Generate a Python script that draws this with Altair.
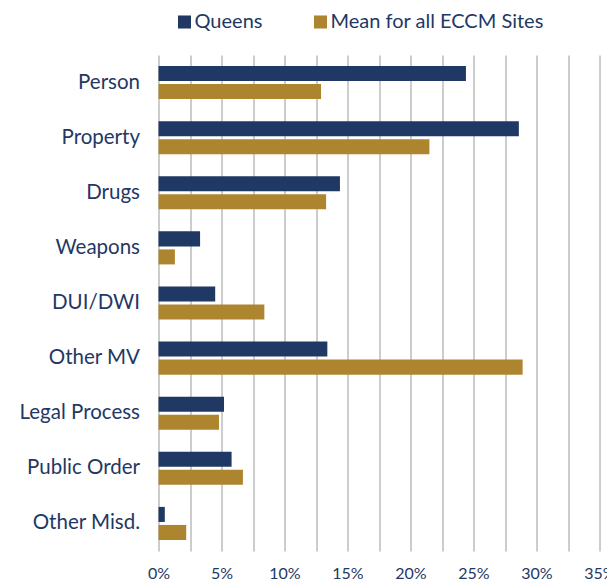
import altair as alt
import pandas as pd

categories = ["Person", "Property", "Drugs", "Weapons", "DUI/DWI", "Other MV",
              "Legal Process", "Public Order", "Other Misd."]
queens = [24.4, 28.6, 14.4, 3.3, 4.5, 13.4, 5.2, 5.8, 0.5]
mean_all = [12.9, 21.5, 13.3, 1.3, 8.4, 28.9, 4.8, 6.7, 2.2]
series = ["Queens", "Mean for all ECCM Sites"]
x_ticks = [0, 2.5, 5, 7.5, 10, 12.5, 15, 17.5, 20, 22.5, 25, 27.5, 30, 32.5, 35]

rows = []
for c, q, m in zip(categories, queens, mean_all):
    rows.append({"category": c, "series": series[0], "value": q})
    rows.append({"category": c, "series": series[1], "value": m})
df = pd.DataFrame(rows)

navy = "#1F3864"
gold = "#AE852F"
font = "Lato"

chart = alt.Chart(df).mark_bar().encode(
    y=alt.Y("category:N", sort=categories,
            scale=alt.Scale(paddingInner=0.4, paddingOuter=0.2),
            axis=alt.Axis(title=None, ticks=False, domain=False, labelFont=font,
                          labelFontSize=20.5, labelColor=navy, labelPadding=19,
                          labelLimit=300)),
    yOffset=alt.YOffset("series:N", sort=series,
                        scale=alt.Scale(paddingInner=0.167, paddingOuter=0)),
    x=alt.X("value:Q", scale=alt.Scale(domain=[0, 35], nice=False),
            axis=alt.Axis(title=None, values=x_ticks, ticks=False, domain=False,
                          grid=True, gridColor="#9a9a9a", gridWidth=1,
                          labelFont=font, labelFontSize=16, labelColor=navy,
                          labelPadding=14, labelFlush=False,
                          labelExpr="datum.value % 5 == 0 ? datum.value + '%' : ''")),
    color=alt.Color("series:N", sort=series,
                    scale=alt.Scale(domain=series, range=[navy, gold]),
                    legend=alt.Legend(title=None, orient="none", direction="horizontal",
                                      legendX=16, legendY=-43, padding=0,
                                      symbolType="square", symbolSize=170,
                                      symbolStrokeWidth=0, labelFont=font,
                                      labelFontSize=20, labelColor=navy,
                                      labelOffset=0, columnPadding=48,
                                      labelLimit=400)),
).properties(
    width=441,
    height=496,
    autosize=alt.AutoSizeParams(type="none"),
    padding={"left": 150.5, "top": 47, "right": 7, "bottom": 30},
).configure_view(stroke=None)

chart.save("out.html", embed_options={"renderer": "svg", "actions": False})
